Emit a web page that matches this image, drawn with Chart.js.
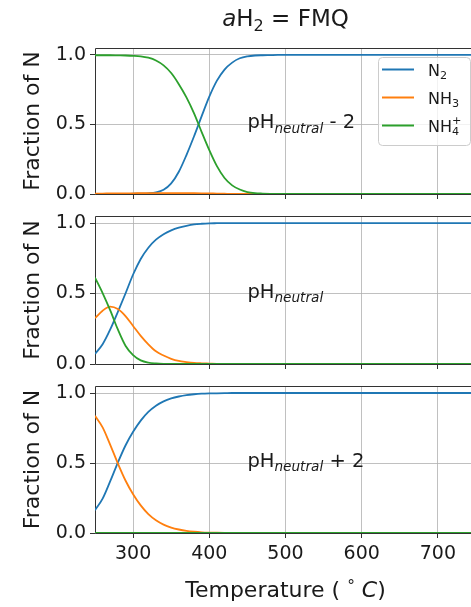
<!DOCTYPE html>
<html>
<head>
<meta charset="utf-8">
<title>Fraction of N vs temperature</title>
<script src="https://cdn.jsdelivr.net/npm/chart.js@4.4.0/dist/chart.umd.min.js"></script>
<style>
  html, body { margin: 0; padding: 0; background: #fff; }
  #wrap { position: relative; width: 471px; height: 607px; overflow: hidden; }
  #wrap canvas { position: absolute; left: 0; }
</style>
</head>
<body>
<div id="wrap">
  <canvas id="panelLow" width="476" height="200" style="top:0px"></canvas>
  <canvas id="panelMid" width="476" height="170" style="top:200px"></canvas>
  <canvas id="panelHigh" width="476" height="237" style="top:370px"></canvas>
</div>
<script>
// temperatures (deg C) shared by all three panels
const temps = [250, 260, 270, 280, 290, 300, 310, 320, 330, 340, 350, 360, 370, 380, 390, 400,
  410, 420, 430, 440, 450, 460, 470, 480, 490, 500, 550, 600, 650, 700, 750];

// pH neutral - 2
const n2Low  = [0, 0, 0, 0.001, 0.001, 0.002, 0.003, 0.005, 0.011, 0.03, 0.076, 0.16, 0.28, 0.415, 0.56, 0.70,
  0.815, 0.895, 0.945, 0.976, 0.99, 0.996, 0.998, 0.999, 1, 1, 1, 1, 1, 1, 1];
const nh3Low = [0.003, 0.003, 0.004, 0.004, 0.005, 0.005, 0.006, 0.006, 0.007, 0.007, 0.007, 0.007, 0.007, 0.006, 0.005, 0.004,
  0.003, 0.002, 0.001, 0.001, 0, 0, 0, 0, 0, 0, 0, 0, 0, 0, 0];
const nh4Low = [0.998, 0.998, 0.998, 0.997, 0.996, 0.994, 0.99, 0.98, 0.96, 0.925, 0.87, 0.79, 0.695, 0.58, 0.445, 0.315,
  0.2, 0.115, 0.062, 0.032, 0.014, 0.006, 0.003, 0.001, 0, 0, 0, 0, 0, 0, 0];

// pH neutral
const n2Mid  = [0.072, 0.14, 0.245, 0.37, 0.50, 0.635, 0.745, 0.825, 0.882, 0.921, 0.948, 0.967, 0.98, 0.99, 0.995, 0.998,
  0.999, 1, 1, 1, 1, 1, 1, 1, 1, 1, 1, 1, 1, 1, 1];
const nh3Mid = [0.325, 0.378, 0.407, 0.39, 0.34, 0.27, 0.2, 0.14, 0.09, 0.06, 0.037, 0.022, 0.014, 0.008, 0.005, 0.003,
  0.001, 0, 0, 0, 0, 0, 0, 0, 0, 0, 0, 0, 0, 0, 0];
const nh4Mid = [0.613, 0.503, 0.38, 0.245, 0.13, 0.063, 0.026, 0.01, 0.004, 0.001, 0, 0, 0, 0, 0, 0,
  0, 0, 0, 0, 0, 0, 0, 0, 0, 0, 0, 0, 0, 0, 0];

// pH neutral + 2
const n2High  = [0.163, 0.245, 0.37, 0.503, 0.625, 0.723, 0.803, 0.865, 0.909, 0.94, 0.961, 0.975, 0.985, 0.991, 0.995, 0.997,
  0.998, 0.999, 1, 1, 1, 1, 1, 1, 1, 1, 1, 1, 1, 1, 1];
const nh3High = [0.837, 0.755, 0.63, 0.497, 0.375, 0.277, 0.197, 0.135, 0.091, 0.06, 0.039, 0.025, 0.015, 0.009, 0.005, 0.003,
  0.002, 0.001, 0, 0, 0, 0, 0, 0, 0, 0, 0, 0, 0, 0, 0];
const nh4High = [0, 0, 0, 0, 0, 0, 0, 0, 0, 0, 0, 0, 0, 0, 0, 0,
  0, 0, 0, 0, 0, 0, 0, 0, 0, 0, 0, 0, 0, 0, 0];

const xTicks = [300, 400, 500, 600, 700];
const yTicks = [0, 0.5, 1.0];
const xRange = [250, 750];
const yRange = [0, 1.05];
const noteAt = [450, 0.5];

const colors = ['#1f77b4', '#ff7f0e', '#2ca02c'];
// rich text pieces: it = italic, sub = subscript, sup = superscript on same spot, raise = small raised glyph
const speciesNames = [
  [{ t: 'N' }, { t: '2', sub: true }],
  [{ t: 'NH' }, { t: '3', sub: true }],
  [{ t: 'NH' }, { t: '4', sub: true, sup: '+' }]
];
const titleText = [{ t: 'a', it: true }, { t: 'H' }, { t: '2', sub: true }, { t: ' = FMQ' }];
const xTitleText = [{ t: 'Temperature ( ' }, { t: '°', small: true, raise: true }, { t: ' ' }, { t: 'C', it: true }, { t: ')' }];
const yTitleText = 'Fraction of N';
const notes = [
  [{ t: 'pH' }, { t: 'neutral', it: true, sub: true }, { t: ' - 2' }],
  [{ t: 'pH' }, { t: 'neutral', it: true, sub: true }],
  [{ t: 'pH' }, { t: 'neutral', it: true, sub: true }, { t: ' + 2' }]
];

const FONT = "'DejaVu Sans', sans-serif";
const TEXT = '#1a1a1a';
Chart.defaults.font.family = FONT;
Chart.defaults.color = TEXT;

function drawRich(ctx, parts, x, y, size, align) {
  const segs = parts.map(p => {
    const s = (p.sub || p.small) ? size * 0.7 : size;
    const f = (p.it ? 'italic ' : '') + s + 'px ' + FONT;
    ctx.font = f;
    const w = ctx.measureText(p.t).width;
    const supW = p.sup ? ctx.measureText(p.sup).width : 0;
    return { p, f, w: Math.max(w, supW) };
  });
  const total = segs.reduce((a, s) => a + s.w, 0);
  let cx = align === 'center' ? x - total / 2 : x;
  ctx.textAlign = 'left';
  ctx.textBaseline = 'alphabetic';
  segs.forEach(s => {
    ctx.font = s.f;
    let dy = 0;
    if (s.p.sub) dy = size * 0.22;
    if (s.p.raise) dy = -size * 0.28;
    ctx.fillText(s.p.t, cx, y + dy);
    if (s.p.sup) ctx.fillText(s.p.sup, cx, y - size * 0.45);
    cx += s.w;
  });
}

// axes frame (left, top, bottom spines)
const framePlugin = {
  id: 'frame',
  beforeDatasetsDraw(chart) {
    const { ctx, chartArea: a } = chart;
    ctx.save();
    ctx.strokeStyle = '#333';
    ctx.lineWidth = 1;
    ctx.beginPath();
    ctx.moveTo(a.right, Math.round(a.top) + 0.5);
    ctx.lineTo(Math.round(a.left) + 0.5, Math.round(a.top) + 0.5);
    ctx.lineTo(Math.round(a.left) + 0.5, Math.round(a.bottom) + 0.5);
    ctx.lineTo(a.right, Math.round(a.bottom) + 0.5);
    ctx.stroke();
    ctx.restore();
  }
};

// text labels inside and around the plots
const textPlugin = {
  id: 'texts',
  afterDraw(chart, args, opts) {
    const { ctx, chartArea: a, scales } = chart;
    ctx.save();
    ctx.fillStyle = TEXT;
    if (opts.note) {
      drawRich(ctx, opts.note, scales.x.getPixelForValue(noteAt[0]), scales.y.getPixelForValue(noteAt[1]) + 4, 19.5, 'left');
    }
    if (opts.title) {
      drawRich(ctx, opts.title, (a.left + a.right) / 2, 26, 23, 'center');
    }
    if (opts.xTitle) {
      drawRich(ctx, opts.xTitle, (a.left + a.right) / 2, a.bottom + 64, 22, 'center');
    }
    if (opts.legend) {
      const bx = a.right - 98, by = a.top + 9, bw = 92, bh = 88;
      ctx.fillStyle = 'rgba(255,255,255,0.8)';
      ctx.strokeStyle = '#cccccc';
      ctx.lineWidth = 1;
      ctx.beginPath();
      ctx.roundRect(bx + 0.5, by + 0.5, bw, bh, 4);
      ctx.fill();
      ctx.stroke();
      speciesNames.forEach((name, i) => {
        const ly = by + 12.5 + i * 28;
        ctx.strokeStyle = colors[i];
        ctx.lineWidth = 2;
        ctx.beginPath();
        ctx.moveTo(bx + 4, ly);
        ctx.lineTo(bx + 36, ly);
        ctx.stroke();
        ctx.fillStyle = TEXT;
        drawRich(ctx, name, bx + 50, ly + 6, 16, 'left');
      });
    }
    ctx.restore();
  }
};

function makePanel(id, series, cfg) {
  const datasets = series.map((vals, i) => ({
    label: speciesNames[i].map(p => p.t).join(''),
    data: temps.map((t, j) => ({ x: t, y: vals[j] })),
    borderColor: colors[i],
    backgroundColor: colors[i],
    borderWidth: 1.8,
    pointRadius: 0,
    fill: false,
    cubicInterpolationMode: 'monotone',
    order: 3 - i
  }));
  return new Chart(document.getElementById(id), {
    type: 'line',
    data: { datasets },
    plugins: [framePlugin, textPlugin],
    options: {
      responsive: false,
      animation: false,
      events: [],
      layout: { padding: { top: cfg.padTop, left: 0, right: 0, bottom: 0 } },
      plugins: {
        legend: { display: false },
        tooltip: { enabled: false },
        texts: cfg.texts
      },
      scales: {
        x: {
          type: 'linear',
          min: xRange[0],
          max: xRange[1],
          afterBuildTicks: s => { s.ticks = xTicks.map(v => ({ value: v })); },
          afterFit: s => { s.height = cfg.xHeight; s.paddingLeft = 0; s.paddingRight = 0; },
          grid: { color: '#b0b0b0', lineWidth: 0.8, tickColor: '#333', tickLength: 5, tickWidth: 1 },
          border: { display: false },
          ticks: { display: cfg.showX, font: { size: 19 }, color: TEXT, padding: 5, maxRotation: 0 }
        },
        y: {
          min: yRange[0],
          max: yRange[1],
          afterBuildTicks: s => { s.ticks = yTicks.map(v => ({ value: v })); },
          afterFit: s => { s.width = 95; s.paddingTop = 0; s.paddingBottom = 0; },
          grid: { color: '#b0b0b0', lineWidth: 0.8, tickColor: '#333', tickLength: 5, tickWidth: 1 },
          border: { display: false },
          ticks: { font: { size: 19 }, color: TEXT, padding: 4, callback: v => v.toFixed(1) },
          title: { display: true, text: yTitleText, font: { size: 22 }, color: TEXT, padding: { top: 20, bottom: 0 } }
        }
      }
    }
  });
}

makePanel('panelLow', [n2Low, nh3Low, nh4Low], {
  padTop: 48, xHeight: 6, showX: false,
  texts: { note: notes[0], title: titleText, legend: true }
});
makePanel('panelMid', [n2Mid, nh3Mid, nh4Mid], {
  padTop: 16, xHeight: 6, showX: false,
  texts: { note: notes[1] }
});
makePanel('panelHigh', [n2High, nh3High, nh4High], {
  padTop: 16, xHeight: 74, showX: true,
  texts: { note: notes[2], xTitle: xTitleText }
});
</script>
</body>
</html>
